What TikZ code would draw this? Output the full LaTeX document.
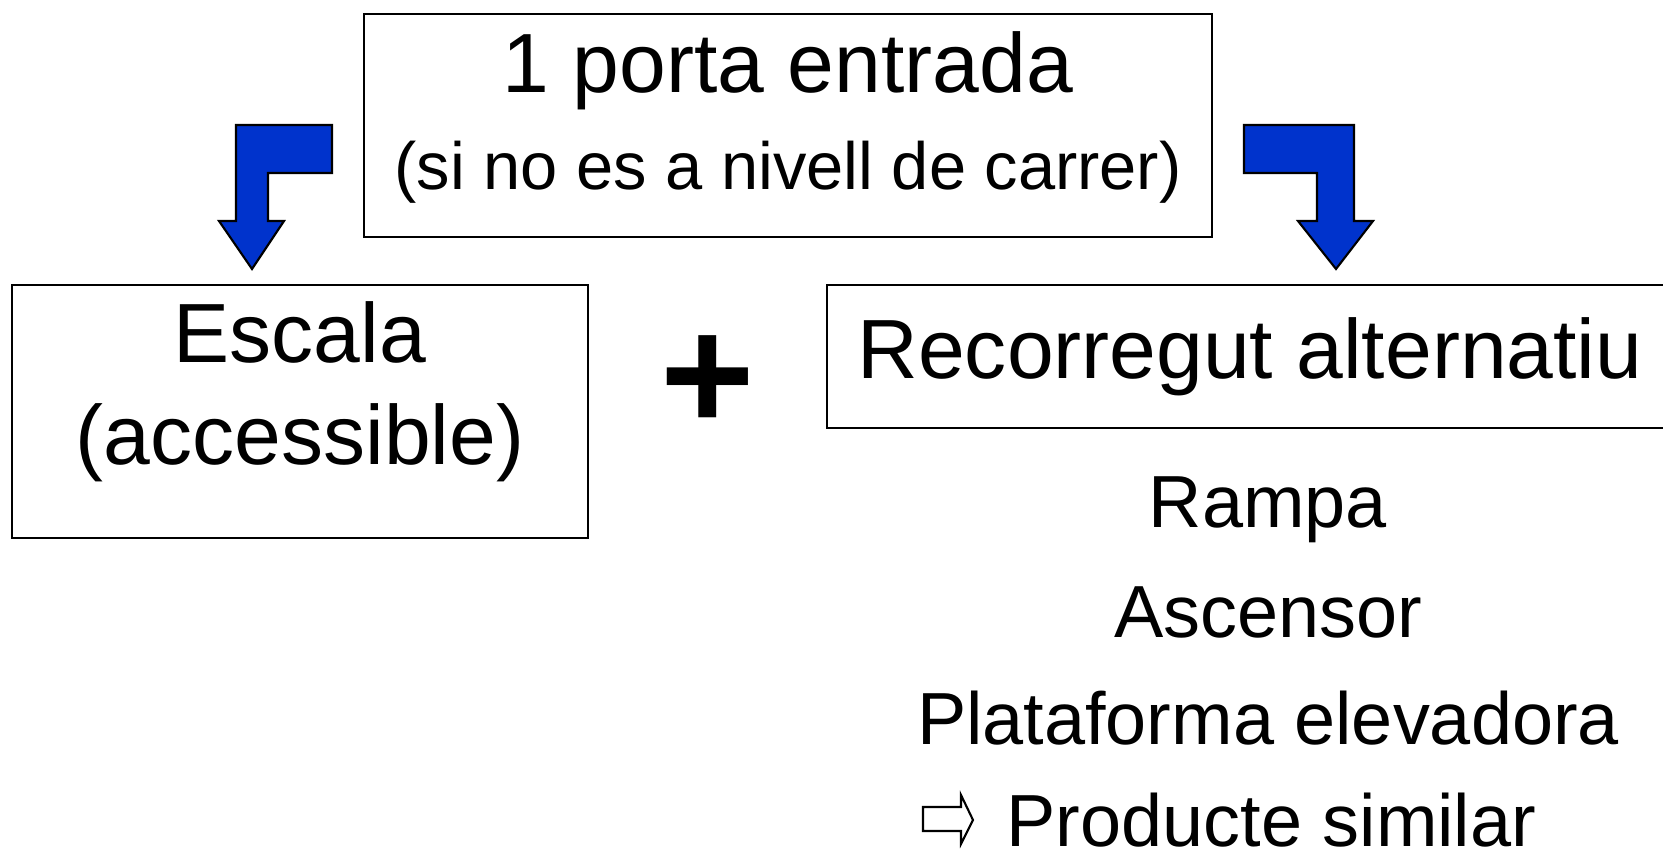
\documentclass[tikz,border=0pt]{standalone}
\usepackage{fontspec}
\setmainfont{Liberation Sans}
\usetikzlibrary{positioning}
\definecolor{arrowblue}{HTML}{0033CC}
\tikzset{
  box/.style={rectangle, draw=black, line width=0.6pt, align=center, inner sep=0pt,
    font=\fontsize{23.9}{29}\selectfont},
  item/.style={anchor=base, inner sep=0pt, font=\fontsize{21}{25}\selectfont},
  bentarrow/.style={draw=black, line width=0.6pt, fill=arrowblue, line join=miter},
  pointer/.style={draw=black, line width=0.6pt, fill=white, line join=miter},
}
\begin{document}
\begin{tikzpicture}[x=0.01cm, y=-0.01cm]
\useasboundingbox (0,0) rectangle (1663,855);
\clip (0,0) rectangle (1663,855);
\node[box, minimum width=8.48cm, minimum height=2.23cm, font=\fontsize{23.9}{27.3}\selectfont] (porta) at (788,125.5)
  {1 porta entrada\\{\fontsize{19}{27.3}\selectfont (si no es a nivell de carrer)\rule[-8.5pt]{0pt}{0pt}}};
\node[box, minimum width=5.76cm, minimum height=2.53cm] (escala) at (300,411.5)
  {Escala\\(accessible)\rule[-15.9pt]{0pt}{0pt}};
\node[box, minimum width=8.46cm, minimum height=1.43cm] (recorregut) at (1250,356.5) {Recorregut alternatiu};
\node[inner sep=0pt, anchor=base, font=\fontsize{46}{50}\selectfont\bfseries] (mes) at (708,431) {+};
\node[item] (rampa) at (1268,528) {Rampa};
\node[item, below=1.09cm of rampa.base, anchor=base] (ascensor) {Ascensor};
\node[item, below=1.07cm of ascensor.base, anchor=base] (plataforma) {Plataforma elevadora};
\node[item, anchor=base west] (similar) at (1006,846) {Producte similar};
\draw[bentarrow] (332,125) -- (236,125) -- (236,221) -- (219,221) -- (252,269) -- (284,221)
  -- (268,221) -- (268,173) -- (332,173) -- cycle;
\draw[bentarrow] (1244,125) -- (1354,125) -- (1354,221) -- (1373,221) -- (1336,269) -- (1298,221)
  -- (1317,221) -- (1317,173) -- (1244,173) -- cycle;
\draw[pointer] (923,807) -- (961,807) -- (961,795) -- (973,820) -- (961,844) -- (961,831)
  -- (923,831) -- cycle;
\end{tikzpicture}
\end{document}
